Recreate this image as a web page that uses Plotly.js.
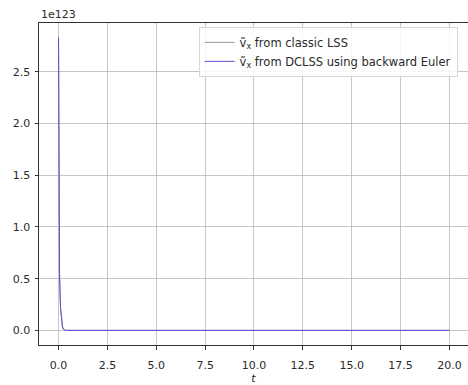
<!DOCTYPE html>
<html>
<head>
<meta charset="utf-8">
<script src="https://cdn.plot.ly/plotly-3.0.1.min.js"></script>
<style>
  html, body { margin: 0; padding: 0; background: #ffffff; }
  #chart { width: 468px; height: 385px; }
</style>
</head>
<body>
<div id="chart"></div>
<script>
// Velocity component sampled over time, in units of 1e123
const exponentLabel = "1e123";
const tClassic = [0, 0.05, 0.1, 0.15, 0.2, 0.25, 0.3, 0.35, 0.4, 0.5, 1, 5, 10, 15, 20];
const vClassic = [2.83, 0.55, 0.22, 0.09, 0.035, 0.012, 0.003, 0.0008, 0.0002, 0, 0, 0, 0, 0, 0];
const tDclss = [0, 0.05, 0.1, 0.15, 0.2, 0.25, 0.3, 0.35, 0.4, 0.5, 1, 5, 10, 15, 20];
const vDclss = [2.83, 0.55, 0.22, 0.09, 0.035, 0.012, 0.003, 0.0008, 0.0002, 0, 0, 0, 0, 0, 0];
const seriesNames = [
  "ṽ<sub>x</sub> from classic LSS",
  "ṽ<sub>x</sub> from DCLSS using backward Euler"
];

const font = { family: "DejaVu Sans, sans-serif", size: 11, color: "#2a2a2a" };

const traces = [
  {
    x: tClassic, y: vClassic, name: seriesNames[0], mode: "lines",
    line: { color: "#9a9a9a", width: 1 }
  },
  {
    x: tDclss, y: vDclss, name: seriesNames[1], mode: "lines",
    line: { color: "#5a4fd6", width: 1 }
  }
];

const axisCommon = {
  showgrid: true, gridcolor: "#b8b8b8", gridwidth: 0.8,
  zeroline: false, showline: true, mirror: true,
  linecolor: "#333333", linewidth: 1,
  ticks: "outside", ticklen: 3.5, tickcolor: "#333333", tickwidth: 1,
  tickfont: font, tickformat: ".1f"
};

const layout = {
  width: 468, height: 385,
  margin: { l: 39, r: 0, t: 23, b: 40 },
  paper_bgcolor: "#ffffff", plot_bgcolor: "#ffffff",
  font: font,
  showlegend: true,
  legend: {
    x: 0.372, y: 0.988, xanchor: "left", yanchor: "top",
    bgcolor: "rgba(255,255,255,0.85)", bordercolor: "#d6d6d6", borderwidth: 1,
    font: { family: "DejaVu Sans, sans-serif", size: 11.5, color: "#2a2a2a" },
    itemwidth: 30, tracegroupgap: 2
  },
  xaxis: Object.assign({}, axisCommon, {
    range: [-1, 20.95], dtick: 2.5, tick0: 0, ticklabelstandoff: 6,
    title: { text: "<i>t</i>", font: { family: "DejaVu Sans, sans-serif", size: 11, color: "#2a2a2a" }, standoff: 1 }
  }),
  yaxis: Object.assign({}, axisCommon, {
    range: [-0.1415, 2.9715], dtick: 0.5, tick0: 0, ticklabelstandoff: 2
  }),
  annotations: [{
    text: exponentLabel, xref: "paper", yref: "paper", x: 0, y: 1,
    xanchor: "left", yanchor: "bottom", showarrow: false,
    font: font, yshift: 0
  }]
};

Plotly.newPlot("chart", traces, layout, { staticPlot: true, displayModeBar: false });
</script>
</body>
</html>
